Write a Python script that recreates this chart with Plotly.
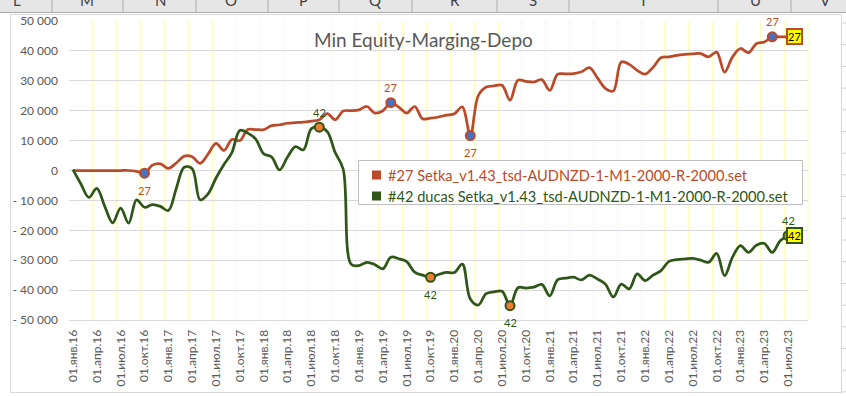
import plotly.graph_objects as go

# ---------------- data ----------------
month_names = ["янв", "фев", "мар", "апр", "май", "июн", "июл", "авг", "сен", "окт", "ноя", "дек"]
years = list(range(16, 24))
categories = [f"01.{m}.{y:02d}" for y in years for m in month_names][:91]  # 01.янв.16 .. 01.июл.23

series_names = [
    "#27 Setka_v1.43_tsd-AUDNZD-1-M1-2000-R-2000.set",
    "#42 ducas Setka_v1.43_tsd-AUDNZD-1-M1-2000-R-2000.set",
]
series_ids = ["27", "42"]

red_values = [
    0, 0, 0, 0, 0, 0, 0, 0, -300, -900,
    1800, 2200, 700, 2500, 4800, 4600, 2400, 5500, 9100, 6700,
    10400, 10000, 13700, 13700, 13700, 15000, 15300, 15800, 16000, 16200,
    16500, 17000, 19000, 17000, 19900, 20000, 20300, 21400, 19200, 20000,
    22700, 21200, 19200, 21400, 17300, 17500, 17900, 18500, 19000, 21300,
    11700, 25000, 27900, 28300, 28500, 23500, 30200, 29800, 29600, 30400,
    26800, 32200, 32300, 32400, 33000, 34400, 31000, 27500, 26600, 36300,
    35500, 33500, 32200, 34500, 37700, 38000, 38500, 38800, 39000, 39100,
    38000, 39600, 32900, 38000, 40800, 39400, 42400, 43000, 44700, 44700,
    44700,
]
green_values = [
    300, -4500, -9000, -6000, -12000, -17500, -12600, -17600, -9800, -12300,
    -11400, -12000, -13400, -6000, 1100, 600, -9800, -7800, -2500, 2000,
    6000, 13400, 12500, 10500, 5600, 4500, 200, 4500, 8000, 6900,
    14000, 14500, 13000, 6000, 500, -31300, -31800, -30700, -31500, -32900,
    -29000, -29500, -30500, -34000, -35000, -35700, -34800, -34100, -34100, -31300,
    -43000, -45000, -41200, -40600, -40400, -45200, -39200, -39300, -39000, -38100,
    -41900, -36500, -36000, -35700, -36600, -35000, -36300, -38000, -42300, -38000,
    -39600, -34600, -36800, -35000, -33500, -30400, -29800, -29600, -29400, -30000,
    -30700, -27700, -35200, -29000, -25100, -27400, -25000, -24400, -27400, -23500,
    -21800,
]

red_marked = [9, 40, 50, 88]
red_label_side = ["below", "above", "below", "above"]
green_marked = [31, 45, 55, 90]
green_label_side = ["above", "below", "below", "above"]

y_tick_values = [-50000, -40000, -30000, -20000, -10000, 0, 10000, 20000, 30000, 40000, 50000]
y_tick_labels = ["- 50 000", "- 40 000", "- 30 000", "- 20 000", "- 10 000", "0",
                 "10 000", "20 000", "30 000", "40 000", "50 000"]

chart_title = "Min Equity-Marging-Depo"

# ---------------- styling ----------------
W, H = 846, 396
RED = "#BA4A2A"
GREEN = "#2F5618"
FONT = "Lato"
GRAY_TXT = "#595959"


def px(x):
    return x / W


def py(y):
    return 1 - y / H


fig = go.Figure()

fig.add_trace(go.Scatter(x=categories, y=red_values, mode="lines", name=series_names[0],
                         line=dict(color=RED, width=2.75, shape="spline"), showlegend=False))
fig.add_trace(go.Scatter(x=categories, y=green_values, mode="lines", name=series_names[1],
                         line=dict(color=GREEN, width=2.75, shape="spline"), showlegend=False))
fig.add_trace(go.Scatter(x=[categories[i] for i in red_marked], y=[red_values[i] for i in red_marked],
                         mode="markers", showlegend=False,
                         marker=dict(size=9, color="#4472C4", line=dict(color=RED, width=2))))
fig.add_trace(go.Scatter(x=[categories[i] for i in green_marked], y=[green_values[i] for i in green_marked],
                         mode="markers", showlegend=False,
                         marker=dict(size=9, color="#ED7D31", line=dict(color=GREEN, width=2))))

annotations = []
for vals, marked, sides, sid, col in [
    (red_values, red_marked, red_label_side, series_ids[0], RED),
    (green_values, green_marked, green_label_side, series_ids[1], GREEN),
]:
    for i, side in zip(marked, sides):
        annotations.append(dict(x=categories[i], y=vals[i], text=sid, showarrow=False,
                                yshift=15 if side == "above" else -17,
                                font=dict(family=FONT, size=11, color=col)))
    # end-of-series yellow box
    annotations.append(dict(x=categories[-1], y=vals[-1], text=sid, showarrow=False,
                            xanchor="left", xshift=-2, bgcolor="#FFFF00", bordercolor=col,
                            borderwidth=2, borderpad=0,
                            font=dict(family=FONT, size=11, color="#000000")))

# title
annotations.append(dict(xref="paper", yref="paper", x=px(424), y=py(40), text=chart_title,
                        showarrow=False, xanchor="center", yanchor="middle",
                        font=dict(family=FONT, size=19, color=GRAY_TXT)))

# custom legend
legend_rows = [(175, RED, series_names[0]), (196, GREEN, series_names[1])]
shapes = []
for yy, col, name in legend_rows:
    shapes.append(dict(type="rect", xref="paper", yref="paper", x0=px(372), x1=px(381),
                       y0=py(yy - 4.5), y1=py(yy + 4.5), fillcolor=col, line=dict(width=0), layer="above"))
    annotations.append(dict(xref="paper", yref="paper", x=px(386), y=py(yy), text=name,
                            showarrow=False, xanchor="left", yanchor="middle",
                            font=dict(family=FONT, size=14.6, color=col)))

# Excel chrome: column headers
col_letters = ["L", "M", "N", "O", "P", "Q", "R", "S", "T", "U", "V"]
col_centers = [17, 87, 160, 231, 303, 375, 455, 533, 643, 755, 825]
col_seps = [52, 123, 196, 268, 339, 412, 497, 569, 718, 791]
shapes.append(dict(type="rect", xref="paper", yref="paper", x0=0, x1=1, y0=py(12), y1=1,
                   fillcolor="#E6E6E6", line=dict(width=0), layer="below"))
shapes.append(dict(type="line", xref="paper", yref="paper", x0=0, x1=1, y0=py(12.5), y1=py(12.5),
                   line=dict(color="#ABABAB", width=1), layer="below"))
for s in col_seps:
    shapes.append(dict(type="line", xref="paper", yref="paper", x0=px(s), x1=px(s), y0=py(12), y1=1,
                       line=dict(color="#ABABAB", width=1), layer="below"))
for letter, cx in zip(col_letters, col_centers):
    annotations.append(dict(xref="paper", yref="paper", x=px(cx), y=py(0), text=letter, showarrow=False,
                            xanchor="center", yanchor="middle", font=dict(family=FONT, size=15, color="#444444")))
# cells on the right of the chart
for k in range(18):
    yy = 23 + 21.7 * k
    shapes.append(dict(type="line", xref="paper", yref="paper", x0=px(841), x1=1, y0=py(yy), y1=py(yy),
                       line=dict(color="#D4D4D4", width=1), layer="below"))
# chart area
shapes.append(dict(type="rect", xref="paper", yref="paper", x0=px(10.5), x1=px(841.5), y0=py(392.5), y1=py(14.5),
                   fillcolor="#FFFFFF", line=dict(color="#D9D9D9", width=1), layer="below"))
# right-most vertical grid line of plot
shapes.append(dict(type="line", xref="x domain", yref="y domain", x0=1, x1=1, y0=0, y1=1,
                   line=dict(color="#FFFDC0", width=1), layer="below"))
# legend box
shapes.append(dict(type="rect", xref="paper", yref="paper", x0=px(358.5), x1=px(802.5), y0=py(204.5), y1=py(160.5),
                   fillcolor="#FFFFFF", line=dict(color="#BFBFBF", width=1), layer="above"))
# move legend row shapes after box so they draw on top
shapes = shapes[2:] + shapes[:2]

# next chart's axis label peeking at bottom
annotations.append(dict(xref="paper", yref="paper", x=px(58), y=py(401), text="250 000", showarrow=False,
                        xanchor="right", yanchor="middle", font=dict(family=FONT, size=12, color=GRAY_TXT)))

fig.update_layout(
    width=W, height=H, margin=dict(l=0, r=0, t=0, b=0),
    paper_bgcolor="#FFFFFF", plot_bgcolor="rgba(0,0,0,0)",
    template="none", showlegend=False,
    xaxis=dict(type="category", domain=[px(69), px(808)], range=[-0.5, 92.5],
               tickmode="linear", tick0=0, dtick=3, tickson="boundaries",
               showgrid=True, gridcolor="#FFFDC0", gridwidth=1,
               showline=True, linecolor="#D9D9D9", linewidth=1,
               ticks="", tickangle=-90, ticklabelstandoff=4,
               tickfont=dict(family=FONT, size=12, color=GRAY_TXT), automargin=False, zeroline=False),
    yaxis=dict(domain=[py(320), py(21)], range=[-50000, 50000],
               tickmode="array", tickvals=y_tick_values, ticktext=y_tick_labels,
               showgrid=True, gridcolor="#D9D9D9", gridwidth=1, zeroline=False, showline=False,
               ticks="", ticklabelstandoff=10,
               tickfont=dict(family=FONT, size=12, color=GRAY_TXT), automargin=False),
    annotations=annotations, shapes=shapes,
)

fig.write_html("out.html")
